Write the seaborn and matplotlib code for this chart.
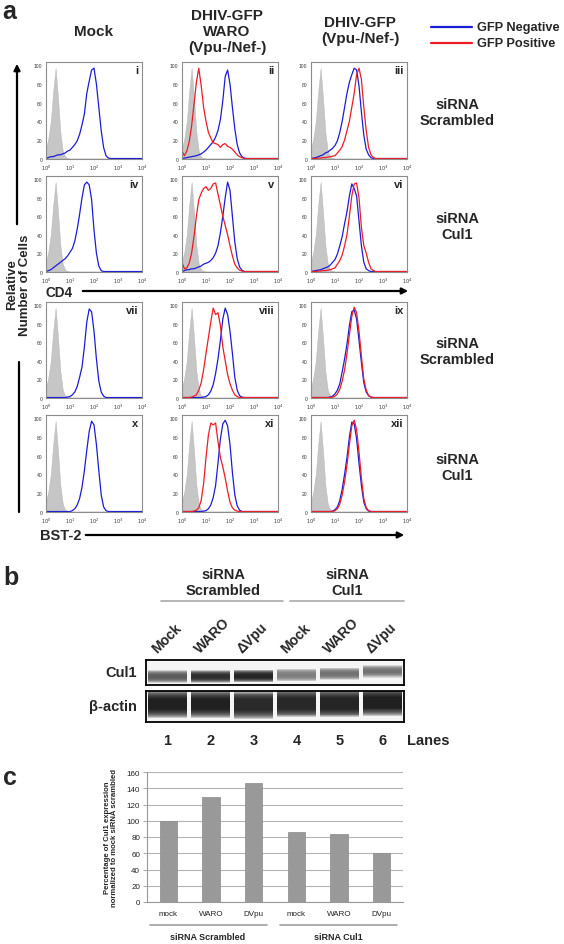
import numpy as np
import pandas as pd
import matplotlib
matplotlib.use("Agg")
import matplotlib.pyplot as plt
import seaborn as sns

# ---- data -------------------------------------------------------------
# log10 fluorescence positions used for every histogram curve
log_grid = [0.0, 0.1, 0.2, 0.3, 0.4, 0.5, 0.6, 0.7, 0.8, 0.9,
            1.0, 1.1, 1.2, 1.3, 1.4, 1.5, 1.6, 1.7, 1.8, 1.9,
            2.0, 2.1, 2.2, 2.3, 2.4, 2.5, 2.6, 2.7, 2.8, 2.9,
            3.0, 4.0]

# isotype control (grey filled)
isotype = [10, 22, 40, 72, 97, 65, 28, 8, 2, 0.5,
           0, 0, 0, 0, 0, 0, 0, 0, 0, 0,
           0, 0, 0, 0, 0, 0, 0, 0, 0, 0, 0, 0]

# CD4, siRNA scrambled
i_neg = [0, 1, 2, 2, 3, 4, 4, 5, 6, 8,
         9, 12, 15, 19, 26, 36, 48, 70, 83, 95,
         97, 80, 55, 30, 12, 3, 0.5, 0, 0, 0, 0, 0]
ii_neg = [0, 0.5, 1, 1.5, 2, 2.5, 3, 4, 5, 7,
          9, 12, 15, 18, 23, 30, 42, 62, 88, 95,
          80, 55, 32, 15, 6, 2, 0.5, 0, 0, 0, 0, 0]
ii_pos = [8, 3, 8, 18, 35, 58, 82, 97, 78, 55,
          40, 28, 22, 17, 16, 15, 12, 15, 16, 13,
          12, 10, 7, 4, 2, 1, 0, 0, 0, 0, 0, 0]
iii_neg = [0, 0.5, 1, 2, 3, 4, 6, 7, 9, 11,
           14, 19, 28, 40, 55, 70, 82, 90, 97, 95,
           78, 50, 25, 10, 4, 1, 0, 0, 0, 0, 0, 0]
iii_pos = [0, 0, 0, 0.5, 0.5, 1, 1, 1.5, 2, 2.5,
           3, 6, 9, 13, 20, 30, 40, 55, 70, 90,
           97, 85, 55, 30, 12, 4, 1, 0, 0, 0, 0, 0]

# CD4, siRNA Cul1
iv_neg = [0, 1, 2, 4, 6, 8, 10, 12, 14, 17,
          21, 25, 33, 46, 62, 80, 94, 97, 94, 78,
          45, 20, 6, 1, 0, 0, 0, 0, 0, 0, 0, 0]
v_neg = [0, 1, 2, 2, 3, 3, 4, 5, 6, 8,
         9, 10, 12, 15, 20, 28, 42, 60, 80, 97,
         88, 60, 32, 14, 5, 1.5, 0, 0, 0, 0, 0, 0]
v_pos = [10, 3, 4, 9, 20, 38, 60, 78, 85, 90,
         92, 88, 90, 95, 96, 84, 72, 60, 50, 40,
         28, 17, 8, 4, 1.5, 0.5, 0, 0, 0, 0, 0, 0]
vi_neg = [0, 0.5, 1, 1.5, 2, 3, 4, 5, 7, 10,
          13, 19, 28, 38, 52, 65, 82, 95, 90, 82,
          55, 28, 10, 3, 1, 0, 0, 0, 0, 0, 0, 0]
vi_pos = [0, 0, 0, 0.5, 0.5, 1, 1, 1.5, 2, 3,
          4, 8, 12, 18, 28, 40, 60, 82, 95, 96,
          80, 48, 28, 20, 10, 3, 1, 0, 0, 0, 0, 0]

# BST-2, siRNA scrambled
vii_neg = [0, 0, 0, 0, 0, 0, 0, 0, 0, 0.5,
           1, 3, 6, 12, 22, 33, 55, 82, 96, 93,
           72, 42, 18, 6, 1.5, 0, 0, 0, 0, 0, 0, 0]
viii_neg = [0, 0, 0, 0, 0, 0, 0, 0, 0, 0.5,
            1, 3, 7, 14, 26, 42, 62, 85, 97, 90,
            72, 48, 22, 8, 2, 0.5, 0, 0, 0, 0, 0, 0]
viii_pos = [0, 0, 0, 0, 0.5, 1.5, 3, 8, 16, 30,
            48, 65, 82, 97, 90, 92, 78, 55, 40, 25,
            15, 8, 3, 1, 0, 0, 0, 0, 0, 0, 0, 0]
ix_neg = [0, 0, 0, 0, 0, 0, 0, 0, 0.5, 1.5,
          4, 8, 15, 28, 42, 58, 78, 93, 95, 85,
          62, 38, 16, 6, 2, 0.5, 0, 0, 0, 0, 0, 0]
ix_pos = [0, 0, 0, 0, 0, 0, 0, 0, 0, 0.5,
          1.5, 4, 9, 18, 30, 48, 68, 88, 98, 92,
          72, 45, 20, 8, 2, 0.5, 0, 0, 0, 0, 0, 0]

# BST-2, siRNA Cul1
x_neg = [0, 0, 0, 0, 0, 0, 0, 0, 0, 0,
         0, 1, 3, 7, 14, 26, 44, 66, 86, 97,
         93, 72, 44, 18, 5, 1, 0, 0, 0, 0, 0, 0]
xi_neg = [0, 0, 0, 0, 0, 0, 0, 0, 0, 0.5,
          1, 3, 7, 15, 28, 52, 78, 94, 98, 92,
          72, 42, 18, 6, 1.5, 0, 0, 0, 0, 0, 0, 0]
xi_pos = [0, 0, 0, 0, 0, 0.5, 1.5, 4, 12, 30,
          58, 82, 95, 93, 95, 75, 58, 48, 36, 22,
          10, 4, 1.5, 0.5, 0, 0, 0, 0, 0, 0, 0, 0]
xii_neg = [0, 0, 0, 0, 0, 0, 0, 0, 0, 0.5,
           2, 5, 12, 24, 40, 58, 80, 96, 94, 78,
           52, 28, 10, 3, 0.5, 0, 0, 0, 0, 0, 0, 0]
xii_pos = [0, 0, 0, 0, 0, 0, 0, 0, 0, 0,
           1, 3, 8, 18, 32, 50, 72, 92, 98, 88,
           64, 36, 14, 4, 1, 0, 0, 0, 0, 0, 0, 0]

x_tick_labels = [r"$10^0$", r"$10^1$", r"$10^2$", r"$10^3$", r"$10^4$"]

# western blot (band darkness 0..1 and vertical position in box)
blot_lanes = [1, 2, 3, 4, 5, 6]
lane_names = ["Mock", "WARO", "\u0394Vpu", "Mock", "WARO", "\u0394Vpu"]
cul1_darkness = [0.7, 0.9, 0.95, 0.55, 0.6, 0.6]
cul1_band_pos = [0.34, 0.34, 0.36, 0.4, 0.45, 0.55]
actin_darkness = [0.97, 0.97, 0.92, 0.93, 0.95, 0.97]
actin_band_pos = [0.58, 0.58, 0.56, 0.6, 0.6, 0.64]

# densitometry bar chart
bar_ids = ["s_mock", "s_waro", "s_dvpu", "c_mock", "c_waro", "c_dvpu"]
bar_labels = ["mock", "WARO", "DVpu", "mock", "WARO", "DVpu"]
cul1_percent = [100, 129, 146, 86, 84, 60]

# ---- layout helpers (pixel coordinates of the 564x945 figure) ----------
W, H = 564, 945
BLUE = "#1c1cd8"
RED = "#ee1c24"


def box(x0, y0, x1, y1):
    return [x0 / W, 1 - y1 / H, (x1 - x0) / W, (y1 - y0) / H]


sns.set_style("white")
plt.rcParams["font.family"] = ["Liberation Sans", "DejaVu Sans"]

fig = plt.figure(figsize=(W / 100, H / 100), dpi=100)

# overlay for free text, arrows and rules
ov = fig.add_axes([0, 0, 1, 1])
ov.set_xlim(0, W)
ov.set_ylim(H, 0)
ov.axis("off")

# ---- panel a: flow histograms -------------------------------------------
cols = [(46, 142), (182, 278), (311, 407)]
rows = [(63, 160), (177, 273), (303, 399), (416, 513)]
panels = [
    ("i", 0, 0, i_neg, None), ("ii", 0, 1, ii_neg, ii_pos), ("iii", 0, 2, iii_neg, iii_pos),
    ("iv", 1, 0, iv_neg, None), ("v", 1, 1, v_neg, v_pos), ("vi", 1, 2, vi_neg, vi_pos),
    ("vii", 2, 0, vii_neg, None), ("viii", 2, 1, viii_neg, viii_pos), ("ix", 2, 2, ix_neg, ix_pos),
    ("x", 3, 0, x_neg, None), ("xi", 3, 1, xi_neg, xi_pos), ("xii", 3, 2, xii_neg, xii_pos),
]
mfi = 10 ** np.array(log_grid)

for numeral, r, c, neg, pos in panels:
    ax = fig.add_axes(box(cols[c][0], rows[r][0], cols[c][1], rows[r][1]))
    ax.fill_between(mfi, isotype, color="#c6c6c6", edgecolor="#b4b4b4", lw=0.3)
    parts = [pd.DataFrame({"mfi": mfi, "count": neg, "population": "GFP Negative"})]
    if pos is not None:
        parts.append(pd.DataFrame({"mfi": mfi, "count": pos, "population": "GFP Positive"}))
    df = pd.concat(parts, ignore_index=True)
    sns.lineplot(data=df, x="mfi", y="count", hue="population",
                 hue_order=list(df["population"].unique()),
                 palette={"GFP Negative": BLUE, "GFP Positive": RED},
                 estimator=None, sort=False, lw=0.9, legend=False, ax=ax)
    ax.set_xscale("log")
    ax.set_xlim(1, 1e4)
    ax.set_ylim(-0.5, 103.6)
    ax.set_xticks([1, 10, 100, 1000, 10000])
    ax.set_xticklabels(x_tick_labels)
    ax.set_yticks([0, 20, 40, 60, 80, 100])
    ax.tick_params(labelsize=3.6, length=1.8, width=0.5, pad=0.8, colors="#333333")
    ax.tick_params(which="minor", length=1.0, width=0.4, colors="#555555")
    ax.set_xlabel("")
    ax.set_ylabel("")
    for s in ax.spines.values():
        s.set_color("#8c8c8c")
        s.set_linewidth(0.8)
    ax.text(0.96, 0.965, numeral, transform=ax.transAxes, ha="right", va="top",
            fontsize=8, fontweight="bold")

ov.text(2, 12, "a", fontsize=18, fontweight="bold", va="center")
ov.text(94, 32, "Mock", ha="center", va="center", fontsize=11, fontweight="bold")
ov.text(227, 32, "DHIV-GFP\nWARO\n(Vpu-/Nef-)", ha="center", va="center",
        fontsize=11, fontweight="bold", linespacing=1.15)
ov.text(360, 31, "DHIV-GFP\n(Vpu-/Nef-)", ha="center", va="center",
        fontsize=11, fontweight="bold", linespacing=1.15)

ov.plot([431, 472], [28, 28], color=BLUE, lw=1.6)
ov.plot([431, 472], [44, 44], color=RED, lw=1.6)
ov.text(477, 28, "GFP Negative", va="center", fontsize=9.2, fontweight="bold")
ov.text(477, 44, "GFP Positive", va="center", fontsize=9.2, fontweight="bold")

for yc, lab in [(113, "siRNA\nScrambled"), (227, "siRNA\nCul1"),
                (352, "siRNA\nScrambled"), (468, "siRNA\nCul1")]:
    ov.text(457, yc, lab, ha="center", va="center", fontsize=10.5,
            fontweight="bold", linespacing=1.15)

arrow = dict(arrowstyle="-|>", lw=1.6, color="black", mutation_scale=9)
ov.annotate("", xy=(17, 62), xytext=(17, 228), arrowprops=arrow)
ov.plot([19, 19], [363, 513], color="black", lw=1.6)
ov.text(19, 285, "Relative\nNumber of Cells", rotation=90, ha="center", va="center",
        fontsize=9.5, fontweight="bold", linespacing=1.1)
ov.text(45, 293, "CD4", va="center", fontsize=9.8, fontweight="bold")
ov.annotate("", xy=(411, 292), xytext=(80, 292), arrowprops=arrow)
ov.text(40, 536, "BST-2", va="center", fontsize=10.5, fontweight="bold")
ov.annotate("", xy=(407, 536), xytext=(83, 536), arrowprops=arrow)

# ---- panel b: western blot ----------------------------------------------
ov.text(3, 578, "b", fontsize=18, fontweight="bold", va="center")
ov.text(223, 583, "siRNA\nScrambled", ha="center", va="center", fontsize=10.5,
        fontweight="bold", linespacing=1.1)
ov.text(347, 583, "siRNA\nCul1", ha="center", va="center", fontsize=10.5,
        fontweight="bold", linespacing=1.1)
ov.plot([161, 283], [602, 602], color="#aaaaaa", lw=1.2)
ov.plot([290, 404], [602, 602], color="#aaaaaa", lw=1.2)

ax_cul = fig.add_axes(box(146, 661, 404, 686))
ax_act = fig.add_axes(box(146, 692, 404, 723))
for ax, dark, bpos, hmax, hmin in [(ax_cul, cul1_darkness, cul1_band_pos, 0.5, 0.12),
                                    (ax_act, actin_darkness, actin_band_pos, 0.9, 0.35)]:
    ax.set_facecolor("#f5f5f5")
    greys = [(1 - d, 1 - d, 1 - d) for d in dark]
    # soft band edges: stacked translucent bars of shrinking height
    for h in np.linspace(hmax, hmin, 10):
        ax.bar(blot_lanes, h, bottom=np.array(bpos) - h / 2, width=0.92,
               color=greys, alpha=0.2, lw=0)
    ax.set_xlim(0.5, 6.5)
    ax.set_ylim(0, 1)
    ax.set_xticks([])
    ax.set_yticks([])
    for s in ax.spines.values():
        s.set_color("black")
        s.set_linewidth(1.3)

for lane, name in zip(blot_lanes, lane_names):
    ax_cul.text(lane - 0.2, 1.2, name, transform=ax_cul.get_xaxis_transform(),
                rotation=45, rotation_mode="anchor", ha="left", va="bottom",
                fontsize=10, fontweight="bold")
    ax_act.text(lane, -0.58, str(lane), transform=ax_act.get_xaxis_transform(),
                ha="center", va="center", fontsize=10.5, fontweight="bold")

ov.text(137, 673, "Cul1", ha="right", va="center", fontsize=10.5, fontweight="bold")
ov.text(137, 707, "\u03b2-actin", ha="right", va="center", fontsize=10.5, fontweight="bold")
ov.text(407, 741, "Lanes", va="center", fontsize=10.5, fontweight="bold")

# ---- panel c: densitometry bars -------------------------------------------
ov.text(3, 778, "c", fontsize=18, fontweight="bold", va="center")
axb = fig.add_axes(box(147, 773, 403, 903))
sns.barplot(x=bar_ids, y=cul1_percent, order=bar_ids, color="#999999",
            saturation=1, width=0.4, edgecolor="#8a8a8a", lw=0.5, ax=axb, zorder=3)
axb.set_ylim(0, 160)
axb.set_xlim(-0.5, 5.5)
axb.set_yticks(range(0, 161, 20))
axb.grid(axis="y", color="#b4b4b4", lw=0.8, zorder=0)
axb.set_axisbelow(True)
axb.set_xticks(range(len(bar_labels)))
axb.set_xticklabels(bar_labels)
axb.set_xticks(np.arange(-0.5, 6, 1), minor=True)
axb.tick_params(axis="x", which="major", length=0, labelsize=5.8, pad=6, colors="#222222")
axb.tick_params(axis="x", which="minor", length=3, width=0.6, color="#999999")
axb.tick_params(axis="y", labelsize=5.8, length=3, width=0.6, pad=2,
                left=True, color="#999999", labelcolor="#222222")
for side in ["top", "right"]:
    axb.spines[side].set_visible(False)
for side in ["left", "bottom"]:
    axb.spines[side].set_color("#999999")
    axb.spines[side].set_linewidth(0.8)
axb.set_ylabel("Percentage of Cul1 expression\nnormalized to mock siRNA scrambled",
               fontsize=5.6, fontweight="bold", labelpad=6, linespacing=1.15)
axb.set_xlabel("")

ov.plot([150, 267], [926, 926], color="#a0a0a0", lw=1.2)
ov.plot([280, 397], [926, 926], color="#a0a0a0", lw=1.2)
ov.text(208, 937, "siRNA Scrambled", ha="center", va="center", fontsize=6.5, fontweight="bold")
ov.text(338, 937, "siRNA Cul1", ha="center", va="center", fontsize=6.5, fontweight="bold")

fig.savefig("out.png", dpi=100)
